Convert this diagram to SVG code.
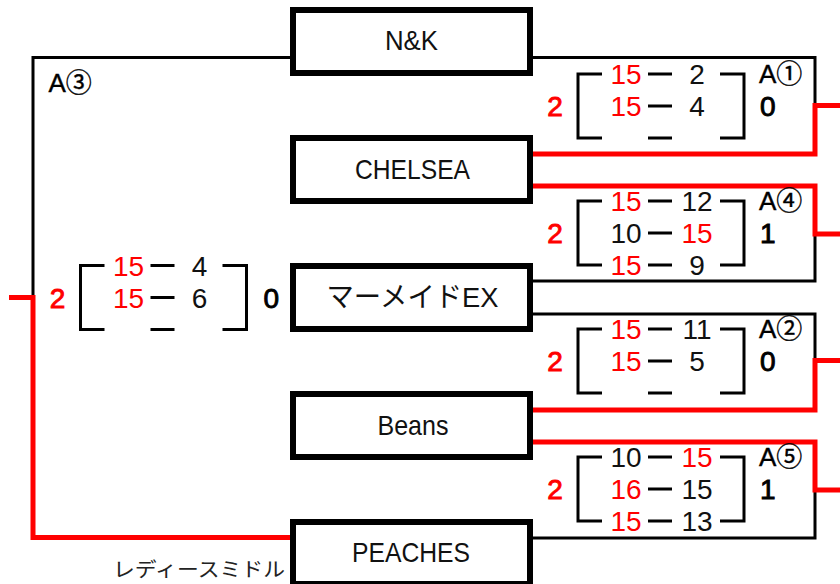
<svg xmlns="http://www.w3.org/2000/svg" width="840" height="584" viewBox="0 0 840 584">
<style>
.node rect{fill:#fff;stroke:#000;stroke-width:6}
.lbl{font-family:"Liberation Sans","Noto Sans CJK JP",sans-serif;font-size:28px;fill:#111;text-anchor:middle}
.blk{fill:none;stroke:#000;stroke-width:3}
.red{fill:none;stroke:#f00;stroke-width:5}
.br{fill:none;stroke:#000;stroke-width:3}
.sc{font-family:"Liberation Sans","DejaVu Sans",sans-serif;font-size:28px;text-anchor:middle;fill:#111}
.r{fill:#f00}
.big{font-family:"Liberation Sans","DejaVu Sans",sans-serif;font-size:28px;stroke-width:0.9}
.bk{fill:#000;stroke:#000}
.rs{fill:#f00;stroke:#f00}
.tag{font-family:"Liberation Sans","Noto Sans CJK JP",sans-serif;font-size:26px;fill:#000;stroke:#000;stroke-width:0.4}
.note{font-family:"Noto Sans CJK JP",sans-serif;font-size:20px;fill:#222}
</style>
<defs>
<path id="brk" d="M24,0 H0 V64 H24 M70,0 H94 M70,32 H94 M70,64 H94 M142,0 H166 V64 H142"/>
</defs>
<g id="connectors">
<path class="blk" d="M293,57.5 H33 V297.5"/>
<path class="blk" d="M530,57.5 H815 V105.5"/>
<path class="blk" d="M815,234 V281 H530"/>
<path class="blk" d="M530,314 H815 V360.5"/>
<path class="blk" d="M815,490 V538 H530"/>
<path class="red" d="M9,297.5 H33 V537.5 H293"/>
<path class="red" d="M840,105.5 H815 V154 H530"/>
<path class="red" d="M530,186 H815 V234 H840"/>
<path class="red" d="M840,360.5 H815 V410 H530"/>
<path class="red" d="M530,442 H815 V490 H840"/>
</g>
<g id="node-nk" class="node"><rect x="293" y="10" width="237" height="63"/><text class="lbl" x="411.5" y="50" textLength="53" lengthAdjust="spacingAndGlyphs">N&amp;K</text></g>
<g id="node-chelsea" class="node"><rect x="293" y="138" width="237" height="63"/><text class="lbl" x="412.5" y="178.5" textLength="115" lengthAdjust="spacingAndGlyphs">CHELSEA</text></g>
<g id="node-mermaid" class="node"><rect x="293" y="266" width="237" height="63"/><text class="lbl" x="412.5" y="306.5" textLength="172" lengthAdjust="spacingAndGlyphs">マーメイドEX</text></g>
<g id="node-beans" class="node"><rect x="293" y="394" width="237" height="63"/><text class="lbl" x="413" y="434.5" textLength="71" lengthAdjust="spacingAndGlyphs">Beans</text></g>
<g id="node-peaches" class="node"><rect x="293" y="522" width="237" height="62"/><text class="lbl" x="411" y="562" textLength="118" lengthAdjust="spacingAndGlyphs">PEACHES</text></g>
<text class="note" x="113" y="577" textLength="172" lengthAdjust="spacingAndGlyphs">レディースミドル</text>

<g id="match-a3" transform="translate(80.5,265.5)">
<use href="#brk" class="br"/>
<text class="sc r" x="48" y="10">15</text><text class="sc" x="119" y="10">4</text>
<text class="sc r" x="48" y="42">15</text><text class="sc" x="119" y="42">6</text>
<text class="big rs" x="-23" y="42" text-anchor="middle">2</text>
<text class="big bk" x="183" y="42">0</text>
<text class="tag" x="-32" y="-174">A③</text>
</g>
<g id="match-a1" transform="translate(578,74)">
<use href="#brk" class="br"/>
<text class="sc r" x="48" y="10">15</text><text class="sc" x="119" y="10">2</text>
<text class="sc r" x="48" y="42">15</text><text class="sc" x="119" y="42">4</text>
<text class="big rs" x="-23" y="42" text-anchor="middle">2</text>
<text class="big bk" x="182" y="42">0</text>
<text class="tag" x="181" y="9">A①</text>
</g>
<g id="match-a4" transform="translate(578,201)">
<use href="#brk" class="br"/>
<text class="sc r" x="48" y="10">15</text><text class="sc" x="119" y="10">12</text>
<text class="sc" x="48" y="42">10</text><text class="sc r" x="119" y="42">15</text>
<text class="sc r" x="48" y="74">15</text><text class="sc" x="119" y="74">9</text>
<text class="big rs" x="-23" y="42" text-anchor="middle">2</text>
<text class="big bk" x="182" y="42">1</text>
<text class="tag" x="181" y="9">A④</text>
</g>
<g id="match-a2" transform="translate(578,329)">
<use href="#brk" class="br"/>
<text class="sc r" x="48" y="10">15</text><text class="sc" x="119" y="10">11</text>
<text class="sc r" x="48" y="42">15</text><text class="sc" x="119" y="42">5</text>
<text class="big rs" x="-23" y="42" text-anchor="middle">2</text>
<text class="big bk" x="182" y="42">0</text>
<text class="tag" x="181" y="9">A②</text>
</g>
<g id="match-a5" transform="translate(578,457)">
<use href="#brk" class="br"/>
<text class="sc" x="48" y="10">10</text><text class="sc r" x="119" y="10">15</text>
<text class="sc r" x="48" y="42">16</text><text class="sc" x="119" y="42">15</text>
<text class="sc r" x="48" y="74">15</text><text class="sc" x="119" y="74">13</text>
<text class="big rs" x="-23" y="42" text-anchor="middle">2</text>
<text class="big bk" x="182" y="42">1</text>
<text class="tag" x="181" y="9">A⑤</text>
</g>
</svg>
